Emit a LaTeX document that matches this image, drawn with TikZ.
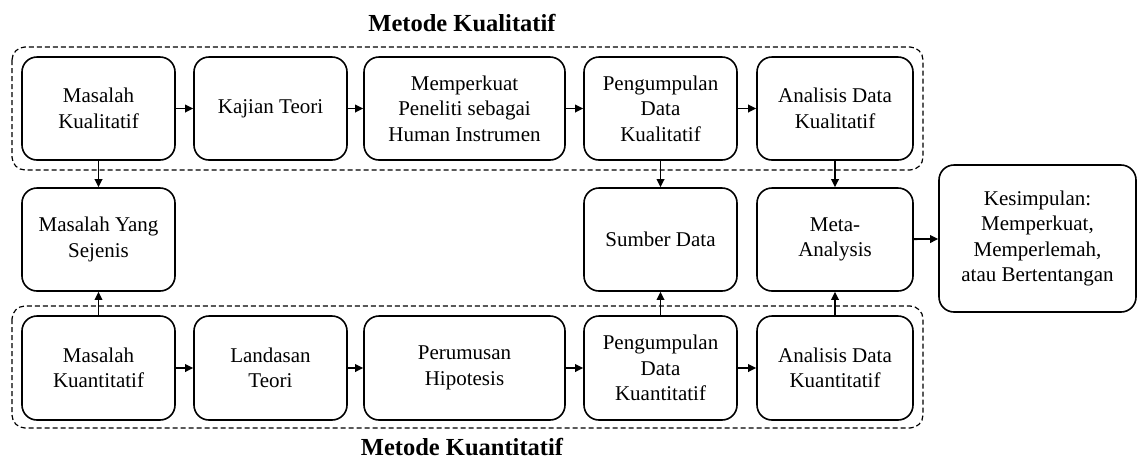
\documentclass[tikz,border=0pt]{standalone}
\usepackage{fontspec}
\setmainfont{Liberation Serif}
\usetikzlibrary{arrows.meta}
\begin{document}
\begin{tikzpicture}[x=1pt,y=-1pt,
  stepbox/.style={draw, line width=1.6pt, rounded corners=15pt, align=center,
    inner sep=2pt, font=\fontsize{21}{25.5}\selectfont},
  group/.style={draw, dash pattern=on 5pt off 3pt, line width=1.2pt, rounded corners=13pt},
  title/.style={font=\fontsize{24.5}{28}\selectfont\bfseries},
  link/.style={line width=1.8pt, -{Triangle[length=8pt,width=7.5pt]}}]
\useasboundingbox (0,0) rectangle (1138,459);

% method groups
\draw[group] (12,47) rectangle (923,170);
\draw[group] (12,306) rectangle (923,428);
\node[title] (tq) at (462,23) {Metode Kualitatif};
\node[title] (tk) at (462,447) {Metode Kuantitatif};

% qualitative row
\node[stepbox, minimum width=153pt, minimum height=103pt] (q1) at (98.5,108.5) {Masalah\\Kualitatif};
\node[stepbox, minimum width=153pt, minimum height=103pt] (q2) at (270.5,108.5) {Kajian Teori};
\node[stepbox, minimum width=201pt, minimum height=103pt] (q3) at (464.5,108.5) {Memperkuat\\Peneliti sebagai\\Human Instrumen};
\node[stepbox, minimum width=153pt, minimum height=103pt] (q4) at (660.5,108.5) {Pengumpulan\\Data\\Kualitatif};
\node[stepbox, minimum width=156pt, minimum height=103pt] (q5) at (835,108.5) {Analisis Data\\Kualitatif};

% middle row
\node[stepbox, minimum width=153pt, minimum height=103pt] (m1) at (98.5,239.5) {Masalah Yang\\Sejenis};
\node[stepbox, minimum width=153pt, minimum height=103pt] (m2) at (660.5,239.5) {Sumber Data};
\node[stepbox, minimum width=156pt, minimum height=103pt] (m3) at (835,239.5) {Meta-\\Analysis};
\node[stepbox, minimum width=197pt, minimum height=147pt] (ks) at (1037.5,238.5) {Kesimpulan:\\Memperkuat,\\Memperlemah,\\atau Bertentangan};

% quantitative row
\node[stepbox, minimum width=153pt, minimum height=104pt] (k1) at (98.5,368) {Masalah\\Kuantitatif};
\node[stepbox, minimum width=153pt, minimum height=104pt] (k2) at (270.5,368) {Landasan\\Teori};
\node[stepbox, minimum width=201pt, minimum height=104pt] (k3) at (464.5,368) {Perumusan\\Hipotesis};
\node[stepbox, minimum width=153pt, minimum height=104pt] (k4) at (660.5,368) {Pengumpulan\\Data\\Kuantitatif};
\node[stepbox, minimum width=156pt, minimum height=104pt] (k5) at (835,368) {Analisis Data\\Kuantitatif};

% flow along each row
\draw[link] (q1) -- (q2);
\draw[link] (q2) -- (q3);
\draw[link] (q3) -- (q4);
\draw[link] (q4) -- (q5);
\draw[link] (k1) -- (k2);
\draw[link] (k2) -- (k3);
\draw[link] (k3) -- (k4);
\draw[link] (k4) -- (k5);

% links into the middle row
\draw[link] (q1) -- (m1);
\draw[link] (q4) -- (m2);
\draw[link] (q5) -- (m3);
\draw[link] (k1) -- (m1);
\draw[link] (k4) -- (m2);
\draw[link] (k5) -- (m3);
\draw[link] (m3) -- (ks);
\end{tikzpicture}
\end{document}
